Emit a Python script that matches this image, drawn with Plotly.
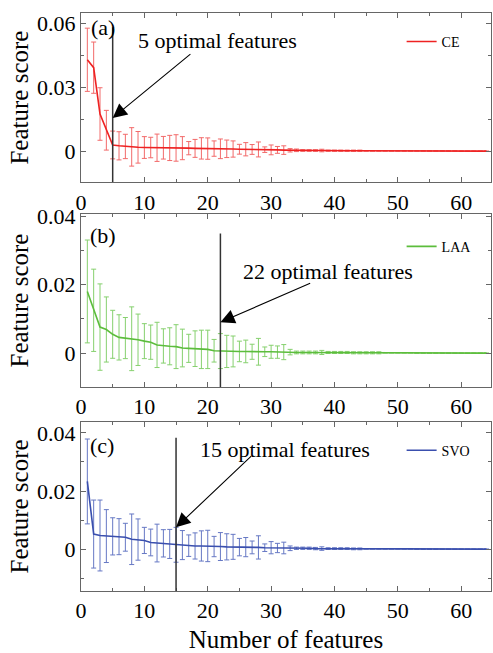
import plotly.graph_objects as go

features = list(range(1, 65))

ce_score = [0.0428, 0.0391, 0.0174, 0.0098, 0.0029, 0.0025, 0.0022, 0.0020, 0.0018, 0.0017,
            0.0017, 0.0016, 0.0016, 0.0015, 0.0015, 0.0014, 0.0014, 0.0013, 0.0013, 0.0012,
            0.0012, 0.0011, 0.0011, 0.0010, 0.0009, 0.0009, 0.0008, 0.0008, 0.0007, 0.0006,
            0.0006, 0.0005, 0.0004, 0.0004, 0.0003, 0.0003, 0.0003, 0.0003, 0.0002, 0.0002,
            0.0002, 0.0002, 0.0002, 0.0002, 0.0001, 0.0001, 0.0001, 0.0001, 0.0001, 0.0001,
            0.0001, 0.0001, 0.0001, 0.0001, 0.0001, 0.0001, 0.0001, 0.0001, 0.0001, 0.0000,
            0.0000, 0.0000, 0.0000, 0.0000]
ce_err = [0.0148, 0.0120, 0.0123, 0.0093, 0.0065, 0.0066, 0.0057, 0.0090, 0.0074, 0.0051,
          0.0048, 0.0064, 0.0053, 0.0059, 0.0062, 0.0054, 0.0031, 0.0042, 0.0050, 0.0050,
          0.0036, 0.0046, 0.0041, 0.0038, 0.0023, 0.0031, 0.0023, 0.0035, 0.0013, 0.0023,
          0.0016, 0.0020, 0.0008, 0.0006, 0.0004, 0.0004, 0.0004, 0.0006, 0.0003, 0.0003,
          0.0003, 0.0003, 0.0003, 0.0003, 0, 0, 0, 0, 0, 0,
          0, 0, 0, 0, 0, 0, 0, 0, 0, 0,
          0, 0, 0, 0]

laa_score = [0.0180, 0.0125, 0.0076, 0.0069, 0.0055, 0.0046, 0.0044, 0.0042, 0.0039, 0.0035,
             0.0032, 0.0024, 0.0021, 0.0020, 0.0019, 0.0015, 0.0014, 0.0013, 0.0011, 0.0011,
             0.0007, 0.0006, 0.0005, 0.0005, 0.0005, 0.0005, 0.0004, 0.0004, 0.0004, 0.0004,
             0.0003, 0.0003, 0.0003, 0.0002, 0.0002, 0.0002, 0.0002, 0.0002, 0.0002, 0.0002,
             0.0002, 0.0002, 0.0001, 0.0001, 0.0001, 0.0001, 0.0001, 0.0001, 0.0001, 0.0001,
             0.0001, 0.0001, 0.0000, 0.0000, 0.0000, 0.0000, 0.0000, 0.0000, 0.0000, 0.0000,
             0.0000, 0.0000, 0.0000, 0.0000]
laa_err = [0.0150, 0.0120, 0.0126, 0.0095, 0.0070, 0.0066, 0.0060, 0.0093, 0.0075, 0.0051,
           0.0050, 0.0066, 0.0050, 0.0054, 0.0064, 0.0055, 0.0041, 0.0052, 0.0056, 0.0056,
           0.0033, 0.0051, 0.0047, 0.0045, 0.0030, 0.0033, 0.0022, 0.0039, 0.0014, 0.0019,
           0.0018, 0.0022, 0.0008, 0.0004, 0.0004, 0.0004, 0.0004, 0.0006, 0.0003, 0.0003,
           0.0003, 0.0003, 0.0003, 0.0003, 0.0003, 0.0003, 0.0003, 0, 0, 0,
           0, 0, 0, 0, 0, 0, 0, 0, 0, 0,
           0, 0, 0, 0]

svo_score = [0.0233, 0.0052, 0.0047, 0.0045, 0.0044, 0.0043, 0.0041, 0.0034, 0.0033, 0.0030,
             0.0023, 0.0021, 0.0020, 0.0018, 0.0015, 0.0014, 0.0012, 0.0011, 0.0011, 0.0011,
             0.0009, 0.0009, 0.0008, 0.0008, 0.0007, 0.0007, 0.0006, 0.0006, 0.0005, 0.0005,
             0.0004, 0.0004, 0.0003, 0.0003, 0.0003, 0.0003, 0.0002, 0.0002, 0.0002, 0.0002,
             0.0002, 0.0002, 0.0001, 0.0001, 0.0001, 0.0001, 0.0001, 0.0001, 0.0001, 0.0001,
             0.0001, 0.0001, 0.0000, 0.0000, 0.0000, 0.0000, 0.0000, 0.0000, 0.0000, 0.0000,
             0.0000, 0.0000, 0.0000, 0.0000]
svo_err = [0.0146, 0.0117, 0.0122, 0.0091, 0.0064, 0.0062, 0.0048, 0.0087, 0.0071, 0.0045,
           0.0046, 0.0065, 0.0047, 0.0050, 0.0060, 0.0050, 0.0037, 0.0045, 0.0052, 0.0054,
           0.0035, 0.0048, 0.0045, 0.0043, 0.0030, 0.0033, 0.0022, 0.0040, 0.0013, 0.0021,
           0.0016, 0.0020, 0.0008, 0.0004, 0.0004, 0.0004, 0.0004, 0.0006, 0.0003, 0.0003,
           0.0003, 0.0003, 0.0003, 0.0003, 0, 0, 0, 0, 0, 0,
           0, 0, 0, 0, 0, 0, 0, 0, 0, 0,
           0, 0, 0, 0]

names = ["CE", "LAA", "SVO"]
line_colors = ["#ee2222", "#5cbd3c", "#3a4fae"]
err_colors = ["#f26a6a", "#86d06e", "#6678c4"]
scores = [ce_score, laa_score, svo_score]
errs = [ce_err, laa_err, svo_err]
panel_labels = ["(a)", "(b)", "(c)"]
optimal = [5, 22, 15]
vline_top = [0.058, 0.0349, 0.0383]
arrow_tail = [(17.5, 0.046), (36.4, 0.0206), (27.1, 0.0325)]
arrow_head_y = [0.0155, 0.009, 0.0075]
text_pos = [(21.5, 0.052), (38.9, 0.0238), (32.2, 0.0342)]
label_pos = [(3.4, 0.0577), (3.5, 0.0342), (3.3, 0.0355)]
y_ranges = [[-0.0145, 0.0647], [-0.0099, 0.0406], [-0.0144, 0.0438]]
y_dticks = [0.03, 0.02, 0.02]
y_domains = [[0.7074, 1.0], [0.3528, 0.6523], [0.0, 0.2926]]
legend_y = [0.950, 0.5955, 0.2427]

serif = "Liberation Serif"
fig = go.Figure()

for i in range(3):
    xa = "x" if i == 0 else f"x{i+1}"
    ya = "y" if i == 0 else f"y{i+1}"
    lg = "legend" if i == 0 else f"legend{i+1}"
    fig.add_trace(go.Scatter(
        x=features, y=scores[i], mode="lines", name=names[i],
        xaxis=xa, yaxis=ya, legend=lg,
        line=dict(color=line_colors[i], width=1.6),
        error_y=dict(type="data", array=errs[i], visible=True,
                     color=err_colors[i], thickness=1, width=2.5),
    ))
    axis_common = dict(
        showline=True, linecolor="#666666", linewidth=1, mirror="allticks",
        ticks="inside", ticklen=5, tickcolor="#666666",
        showgrid=False, zeroline=False,
        tickfont=dict(family=serif, size=22, color="black"),
    )
    xk = "xaxis" if i == 0 else f"xaxis{i+1}"
    yk = "yaxis" if i == 0 else f"yaxis{i+1}"
    fig.update_layout({
        xk: dict(axis_common, range=[0, 64.7], dtick=10, tick0=0, anchor=ya,
                 domain=[0, 1],
                 minor=dict(ticks="inside", dtick=5, ticklen=3, tickcolor="#666666"),
                 title=dict(text="Number of features" if i == 2 else "",
                            font=dict(family=serif, size=25, color="black"), standoff=11)),
        yk: dict(axis_common, range=y_ranges[i], dtick=y_dticks[i], tick0=0, anchor=xa,
                 domain=y_domains[i], tickformat="~g",
                 minor=dict(ticks="inside", dtick=y_dticks[i] / 2, ticklen=3, tickcolor="#666666"),
                 title=dict(text="Feature score",
                            font=dict(family=serif, size=25, color="black"), standoff=1)),
        lg: dict(x=0.782, y=legend_y[i], xanchor="left", yanchor="middle",
                 bgcolor="rgba(0,0,0,0)", font=dict(family=serif, size=14, color="black")),
    })
    fig.add_shape(type="line", xref=xa, yref=ya, x0=optimal[i], x1=optimal[i],
                  y0=vline_top[i], y1=y_ranges[i][0],
                  line=dict(color="#333333", width=1.5))
    fig.add_annotation(xref=xa, yref=ya, axref=xa, ayref=ya,
                       x=optimal[i], y=arrow_head_y[i],
                       ax=arrow_tail[i][0], ay=arrow_tail[i][1],
                       text="", showarrow=True, arrowhead=2, arrowsize=2.6,
                       arrowwidth=1.1, arrowcolor="black")
    fig.add_annotation(xref=xa, yref=ya, x=text_pos[i][0], y=text_pos[i][1],
                       text=f"{optimal[i]} optimal features", showarrow=False,
                       font=dict(family=serif, size=22, color="black"))
    fig.add_annotation(xref=xa, yref=ya, x=label_pos[i][0], y=label_pos[i][1],
                       text=panel_labels[i], showarrow=False,
                       font=dict(family=serif, size=22, color="black"))

fig.update_layout(
    width=493, height=653,
    margin=dict(l=81, r=1, t=13, b=59),
    paper_bgcolor="white", plot_bgcolor="white",
    showlegend=True,
)

fig.write_html("out.html")
